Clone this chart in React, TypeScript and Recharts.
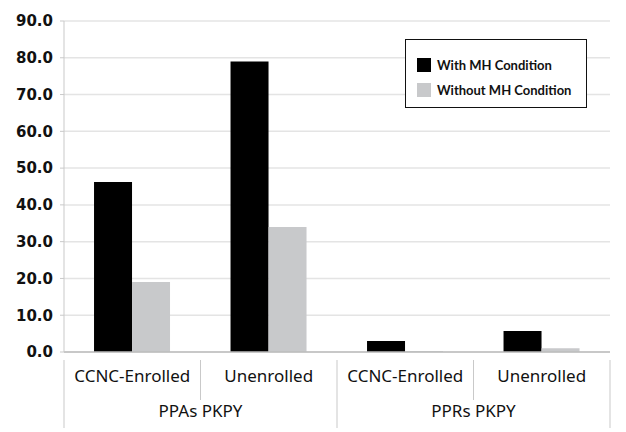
import React from 'react';
import {
  BarChart,
  Bar,
  XAxis,
  YAxis,
  CartesianGrid,
  Legend,
} from 'recharts';

const categories = ['CCNC-Enrolled', 'Unenrolled', 'CCNC-Enrolled', 'Unenrolled'];
const groups = ['PPAs PKPY', 'PPAs PKPY', 'PPRs PKPY', 'PPRs PKPY'];
const withMH = [46.2, 79.0, 3.0, 5.7];
const withoutMH = [19.0, 34.0, 0.3, 1.0];
const yTicks = [0, 10, 20, 30, 40, 50, 60, 70, 80, 90];

const SERIES = [
  { key: 'withMH', name: 'With MH Condition', color: '#000000' },
  { key: 'withoutMH', name: 'Without MH Condition', color: '#c8c9cb' },
];

const data = categories.map((c, i) => ({
  id: `${groups[i]}|${c}`,
  category: c,
  group: groups[i],
  withMH: withMH[i],
  withoutMH: withoutMH[i],
}));

const LINE = '#c9c9c9';
const LABEL_FONT = '"Noto Sans", sans-serif';

const CategoryTick = (props: any) => {
  const { x, y, index, visibleTicksCount } = props;
  const count = visibleTicksCount || data.length;
  const band = props.width / count;
  const row = data[index];
  if (!row) return null;
  const left = x - band / 2;
  const right = x + band / 2;
  const newGroup = index === 0 || data[index - 1].group !== row.group;
  const isLast = index === data.length - 1;
  let groupSpan = 0;
  if (newGroup) {
    groupSpan = data.filter((d) => d.group === row.group).length;
  }
  return (
    <g>
      <line x1={left} x2={left} y1={y} y2={newGroup ? y + 68 : y + 40} stroke={LINE} />
      {isLast && <line x1={right} x2={right} y1={y} y2={y + 68} stroke={LINE} />}
      <text
        x={x}
        y={y + 22}
        textAnchor="middle"
        fontFamily={LABEL_FONT}
        fontSize={17}
        fill="#111"
      >
        {row.category}
      </text>
      {newGroup && (
        <text
          x={left + (band * groupSpan) / 2}
          y={y + 57}
          textAnchor="middle"
          fontFamily={LABEL_FONT}
          fontSize={17}
          fill="#111"
        >
          {row.group}
        </text>
      )}
    </g>
  );
};

const LegendBox = () => (
  <div
    style={{
      border: '1.2px solid #111',
      background: '#fff',
      width: 182,
      height: 69,
      boxSizing: 'border-box',
      padding: '12px 0 0 11px',
      fontFamily: 'Lato, sans-serif',
      fontWeight: 700,
      fontSize: 13,
      color: '#111',
      textAlign: 'left',
    }}
  >
    {SERIES.map((s) => (
      <div key={s.key} style={{ display: 'flex', alignItems: 'center', height: 25 }}>
        <span
          style={{
            display: 'inline-block',
            width: 14,
            height: 14,
            background: s.color,
            marginRight: 6,
          }}
        />
        {s.name}
      </div>
    ))}
  </div>
);

export default function App() {
  return (
    <div style={{ position: 'absolute', left: 0, top: 0, background: '#fff' }}>
      <BarChart
        width={626}
        height={432}
        data={data}
        margin={{ top: 21, right: 16, bottom: 0, left: 0 }}
        barCategoryGap="22%"
        barGap={0}
      >
        <CartesianGrid vertical={false} stroke="#e4e4e4" strokeWidth={1.5} />
        <XAxis
          dataKey="id"
          interval={0}
          height={80}
          axisLine={{ stroke: '#bdbdbd', strokeWidth: 1.5 }}
          tickLine={false}
          tick={<CategoryTick />}
        />
        <YAxis
          domain={[0, 90]}
          ticks={yTicks}
          width={64}
          tickSize={4}
          tickMargin={7}
          interval={0}
          axisLine={{ stroke: LINE }}
          tickLine={{ stroke: LINE }}
          tickFormatter={(v: number) => v.toFixed(1)}
          tick={{ fontFamily: '"DejaVu Sans", sans-serif', fontWeight: 700, fontSize: 15, fill: '#111' }}
        />
        <YAxis
          yAxisId="right"
          orientation="right"
          domain={[0, 90]}
          width={0}
          tick={false}
          tickLine={false}
          axisLine={{ stroke: '#e4e4e4', strokeWidth: 1.5 }}
        />
        <Legend
          layout="horizontal"
          verticalAlign="middle"
          align="center"
          content={<LegendBox />}
          wrapperStyle={{ left: 405, top: 39, width: 182 }}
        />
        {SERIES.map((s) => (
          <Bar
            key={s.key}
            dataKey={s.key}
            name={s.name}
            fill={s.color}
            isAnimationActive={false}
          />
        ))}
      </BarChart>
    </div>
  );
}
